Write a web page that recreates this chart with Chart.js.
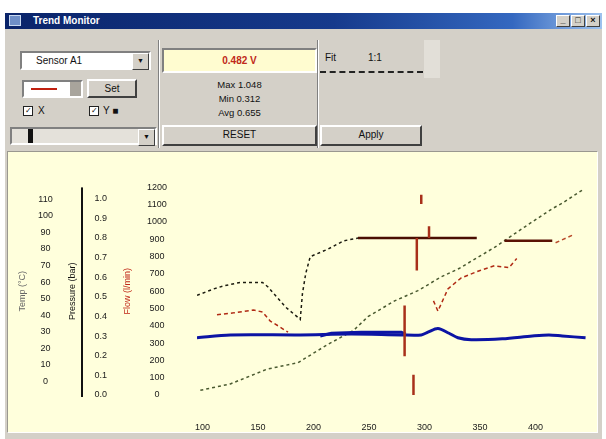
<!DOCTYPE html>
<html>
<head>
<meta charset="utf-8">
<title>Trend Monitor</title>
<script src="https://cdn.jsdelivr.net/npm/chart.js@4/dist/chart.umd.min.js"></script>
<style>
  html, body { margin: 0; padding: 0; width: 606px; height: 439px; overflow: hidden; background: #fff;
    font-family: "Liberation Sans", Arial, sans-serif; font-size: 10px; color: #111; }
  .abs { position: absolute; box-sizing: border-box; }
  .win { left: 5px; top: 13px; width: 597px; height: 426px; background: #d4d0c8; }
  .titlebar { left: 5px; top: 13px; width: 597px; height: 16px;
    background: linear-gradient(to right, #0a246a 0%, #163a8c 55%, #3468c0 85%, #9ec2ee 100%);
    color: #fff; font-weight: bold; font-size: 10px; line-height: 16px; padding-left: 28px; }
  .ticon { left: 9px; top: 15px; width: 12px; height: 11px; background: #6f8fc8; border: 1px solid #c8d8f0; }
  .tbtn { top: 15px; width: 14px; height: 12px; background: #d4d0c8; border: 1px solid;
    border-color: #fff #404040 #404040 #fff; font-size: 9px; line-height: 9px; text-align: center; font-weight: bold; }
  .sunken { border: 2px solid; border-color: #808080 #fff #fff #808080; }
  .raised { border: 2px solid; border-color: #fff #404040 #404040 #fff; }
  .combo { left: 20px; top: 51px; width: 131px; height: 19px; background: #fff; }
  .combo .txt { position: absolute; left: 14px; top: 2px; font-size: 10px; }
  .arrow { position: absolute; right: 0; top: 0; width: 15px; height: 15px; background: #d4d0c8;
    border: 1px solid; border-color: #fff #404040 #404040 #fff; font-size: 7px; line-height: 13px; text-align: center; }
  .sample { left: 22px; top: 80px; width: 61px; height: 18px; background: #fff; }
  .sample .ln { position: absolute; left: 7px; top: 6px; width: 26px; height: 2px; background: #c02010; }
  .sample .sq { position: absolute; right: 0; top: 0; width: 11px; height: 14px; background: #a8a49c; }
  .btn { background: #d4d0c8; text-align: center; font-size: 10px; }
  .chk { width: 10px; height: 10px; background: #fff; border: 1px solid #222; font-size: 8px; line-height: 8px; text-align: center; }
  .lbl { font-size: 10px; }
  .track { left: 10px; top: 127px; width: 147px; height: 18px; background: #e4e1da; }
  .thumb { position: absolute; left: 16px; top: 0; width: 5px; height: 14px; background: #111; }
  .vsep { width: 2px; border-left: 1px solid #808080; border-right: 1px solid #fff; }
  .readout { left: 162px; top: 48px; width: 155px; height: 25px; background: #fffcd0;
    color: #c02818; text-align: center; line-height: 21px; font-size: 10px; font-weight: bold; }
  .stats { left: 162px; top: 74px; width: 155px; height: 51px; text-align: center; font-size: 9.5px; line-height: 14px; padding-top: 4px; }
  .resetbar { left: 162px; top: 125px; width: 155px; height: 21px; line-height: 16px; }
  .group { left: 320px; top: 40px; width: 103px; height: 33px; border-bottom: 2px dashed #222; }
  .apply { left: 320px; top: 125px; width: 102px; height: 21px; line-height: 16px; }
  .plot { left: 7px; top: 151px; width: 591px; height: 282px; background: #ffffdc;
    border: 1px solid; border-color: #9a9890 #fff #fff #9a9890; }
  canvas { position: absolute; left: 9px; top: 152px; }
</style>
</head>
<body>
<div class="abs win"></div>
<div class="abs titlebar">Trend Monitor</div>
<div class="abs ticon"></div>
<div class="abs tbtn" style="left:556px">_</div>
<div class="abs tbtn" style="left:571px">□</div>
<div class="abs tbtn" style="left:586px">×</div>

<div class="abs combo sunken"><span class="txt">Sensor A1</span><div class="arrow">▼</div></div>
<div class="abs sample sunken"><div class="ln"></div><div class="sq"></div></div>
<div class="abs btn raised" style="left:87px;top:79px;width:50px;height:19px;line-height:15px;">Set</div>
<div class="abs chk" style="left:23px;top:106px;">✓</div>
<div class="abs lbl" style="left:38px;top:105px;">X</div>
<div class="abs chk" style="left:89px;top:106px;">✓</div>
<div class="abs lbl" style="left:103px;top:105px;">Y ■</div>
<div class="abs track sunken"><div class="thumb"></div><div class="arrow">▼</div></div>

<div class="abs vsep" style="left:158px;top:40px;height:108px;"></div>
<div class="abs readout sunken">0.482 V</div>
<div class="abs stats">Max  1.048<br>Min  0.312<br>Avg  0.655</div>
<div class="abs btn raised resetbar">RESET</div>
<div class="abs vsep" style="left:317px;top:40px;height:108px;"></div>
<div class="abs group"><span class="abs" style="left:5px;top:12px;">Fit</span><span class="abs" style="left:48px;top:12px;">1:1</span></div>
<div class="abs" style="left:424px;top:40px;width:16px;height:38px;background:#e2dfd8;"></div>
<div class="abs btn raised apply">Apply</div>

<div class="abs plot"></div>
<canvas id="chart" width="587" height="280"></canvas>

<script>
// Axis tick labels
const xTickLabels = ['100', '150', '200', '250', '300', '350', '400'];
const tempTickLabels = ['0', '10', '20', '30', '40', '50', '60', '70', '80', '90', '100', '110'];
const pressTickLabels = ['0.0', '0.1', '0.2', '0.3', '0.4', '0.5', '0.6', '0.7', '0.8', '0.9', '1.0'];
const flowTickLabels = ['0', '100', '200', '300', '400', '500', '600', '700', '800', '900', '1000', '1100', '1200'];

// Flow trace (solid blue)
const flowX = [95, 125, 188, 234, 279, 297, 303, 312, 322, 330, 342, 370, 397, 412, 424, 445];
const flowY = [331, 347, 347, 352, 347, 347, 363, 384, 357, 331, 320, 325, 341, 347, 341, 331];
// Flow trace, upper edge of the busy section
const flowBusyX = [206, 216, 243, 279, 283];
const flowBusyY = [341, 357, 363, 363, 352];

// Setpoint ramp (olive dashed)
const rampX = [98, 125, 158, 186, 213, 236, 249, 273, 294, 315, 331, 349, 363, 390, 415, 424, 442];
const rampY = [27, 64, 149, 187, 293, 373, 453, 544, 603, 683, 731, 800, 853, 971, 1077, 1109, 1184];

// Pressure response (dark dashed)
const pressX = [95, 110, 118, 134, 154, 159, 175, 188, 190, 193, 197, 213, 227, 240];
const pressY = [576, 613, 629, 651, 651, 624, 507, 437, 587, 704, 800, 843, 891, 907];

// Temperature response (red dashed), two runs
const tempAX = [113, 128, 146, 154, 161, 168, 177];
const tempAY = [464, 475, 491, 480, 427, 400, 363];
const tempBX = [308, 312, 321, 333, 350, 363, 376, 383];
const tempBY = [544, 485, 613, 677, 720, 747, 736, 789];
const tempTailX = [418, 433];
const tempTailY = [880, 923];

// Hold levels (dark brown)
const holdAX = [240, 347];
const holdAY = [907, 907];
const holdBX = [372, 415];
const holdBY = [891, 891];

// Event markers (red vertical spans)
const markerX = [282, 290, 293, 304, 297];
const markerLow = [224, 0, 720, 907, 1104];
const markerHigh = [517, 117, 907, 976, 1157];

const toPoints = (xs, ys) => xs.map((x, i) => ({ x: x, y: ys[i] }));
const markerPoints = [];
markerX.forEach((x, i) => {
  markerPoints.push({ x: x, y: markerLow[i] }, { x: x, y: markerHigh[i] }, { x: x, y: null });
});

const tickFont = { family: 'Liberation Sans', size: 9 };
const titleFont = { family: 'Liberation Sans', size: 9 };

function series(points, color, width, dash, extra) {
  return Object.assign({
    data: points, borderColor: color, backgroundColor: color, borderWidth: width,
    borderDash: dash || [], pointRadius: 0, fill: false, tension: 0,
    xAxisID: 'x', yAxisID: 'yFlow', spanGaps: false
  }, extra || {});
}

// Axis line beside the pressure tick labels
const pressAxisLine = {
  id: 'pressAxisLine',
  afterDraw(chart) {
    const s = chart.scales.yPress;
    const c = chart.ctx;
    c.save();
    c.fillStyle = '#111';
    c.fillRect(s.left + 16, s.top, 2, s.bottom - s.top + 2);
    c.restore();
  }
};

new Chart(document.getElementById('chart'), {
  type: 'line',
  data: {
    datasets: [
      series(markerPoints, '#a8301a', 2.5),
      series(toPoints(flowX, flowY), '#0c14a4', 3, [], { tension: 0.3 }),
      series(toPoints(flowBusyX, flowBusyY), '#0c14a4', 3),
      series(toPoints(holdAX, holdAY), '#4a0e02', 2.5),
      series(toPoints(holdBX, holdBY), '#5a1204', 2.5),
      series(toPoints(tempAX, tempAY), '#b02a14', 1.5, [4, 3]),
      series(toPoints(tempBX, tempBY), '#b02a14', 1.5, [4, 3]),
      series(toPoints(tempTailX, tempTailY), '#b84a2a', 1.5, [4, 3]),
      series(toPoints(pressX, pressY), '#1c1c10', 1.5, [3, 3]),
      series(toPoints(rampX, rampY), '#4a5a30', 1.5, [3, 3])
    ]
  },
  options: {
    responsive: false,
    animation: false,
    layout: { padding: { top: 18, right: 6, left: 0, bottom: 0 } },
    plugins: { legend: { display: false }, tooltip: { enabled: false } },
    scales: {
      x: {
        type: 'linear', min: 95, max: 449,
        grid: { display: false, drawTicks: false }, border: { display: false },
        ticks: { stepSize: 50, includeBounds: false, padding: 27, font: tickFont, color: '#1a1a1a',
          maxRotation: 0, autoSkip: false, callback: (v, i) => xTickLabels[i] },
        afterFit: s => { s.height = 37; }
      },
      yFlow: {
        type: 'linear', position: 'left', weight: 1, min: 0, max: 1200,
        grid: { display: false, drawTicks: false }, border: { display: false },
        ticks: { stepSize: 100, includeBounds: false, crossAlign: 'center', padding: 30,
          font: tickFont, color: '#1a1a1a', autoSkip: false, callback: (v, i) => flowTickLabels[i] },
        title: { display: true, text: 'Flow (l/min)', color: '#c02818', font: titleFont, padding: { top: 4, bottom: 0 } },
        afterFit: s => { s.width = 79; }
      },
      yPress: {
        type: 'linear', position: 'left', weight: 2, min: 0, max: 105.6,
        grid: { display: false, drawTicks: false }, border: { display: false },
        ticks: { stepSize: 10, includeBounds: false, crossAlign: 'center', padding: 11,
          font: tickFont, color: '#1a1a1a', autoSkip: false, callback: (v, i) => pressTickLabels[i] },
        title: { display: true, text: 'Pressure (bar)', color: '#111', font: titleFont, padding: { top: 2, bottom: 0 } },
        afterFit: s => { s.width = 53; }
      },
      yTemp: {
        type: 'linear', position: 'left', weight: 3, min: -0.84, max: 11.73,
        grid: { display: false, drawTicks: false }, border: { display: false },
        ticks: { stepSize: 1, includeBounds: false, crossAlign: 'center', padding: 12,
          font: tickFont, color: '#1a1a1a', autoSkip: false, callback: (v, i) => tempTickLabels[i] },
        title: { display: true, text: 'Temp (°C)', color: '#666', font: titleFont, padding: { top: 8, bottom: 0 } },
        afterFit: s => { s.width = 56; }
      }
    }
  },
  plugins: [pressAxisLine]
});
</script>
</body>
</html>
